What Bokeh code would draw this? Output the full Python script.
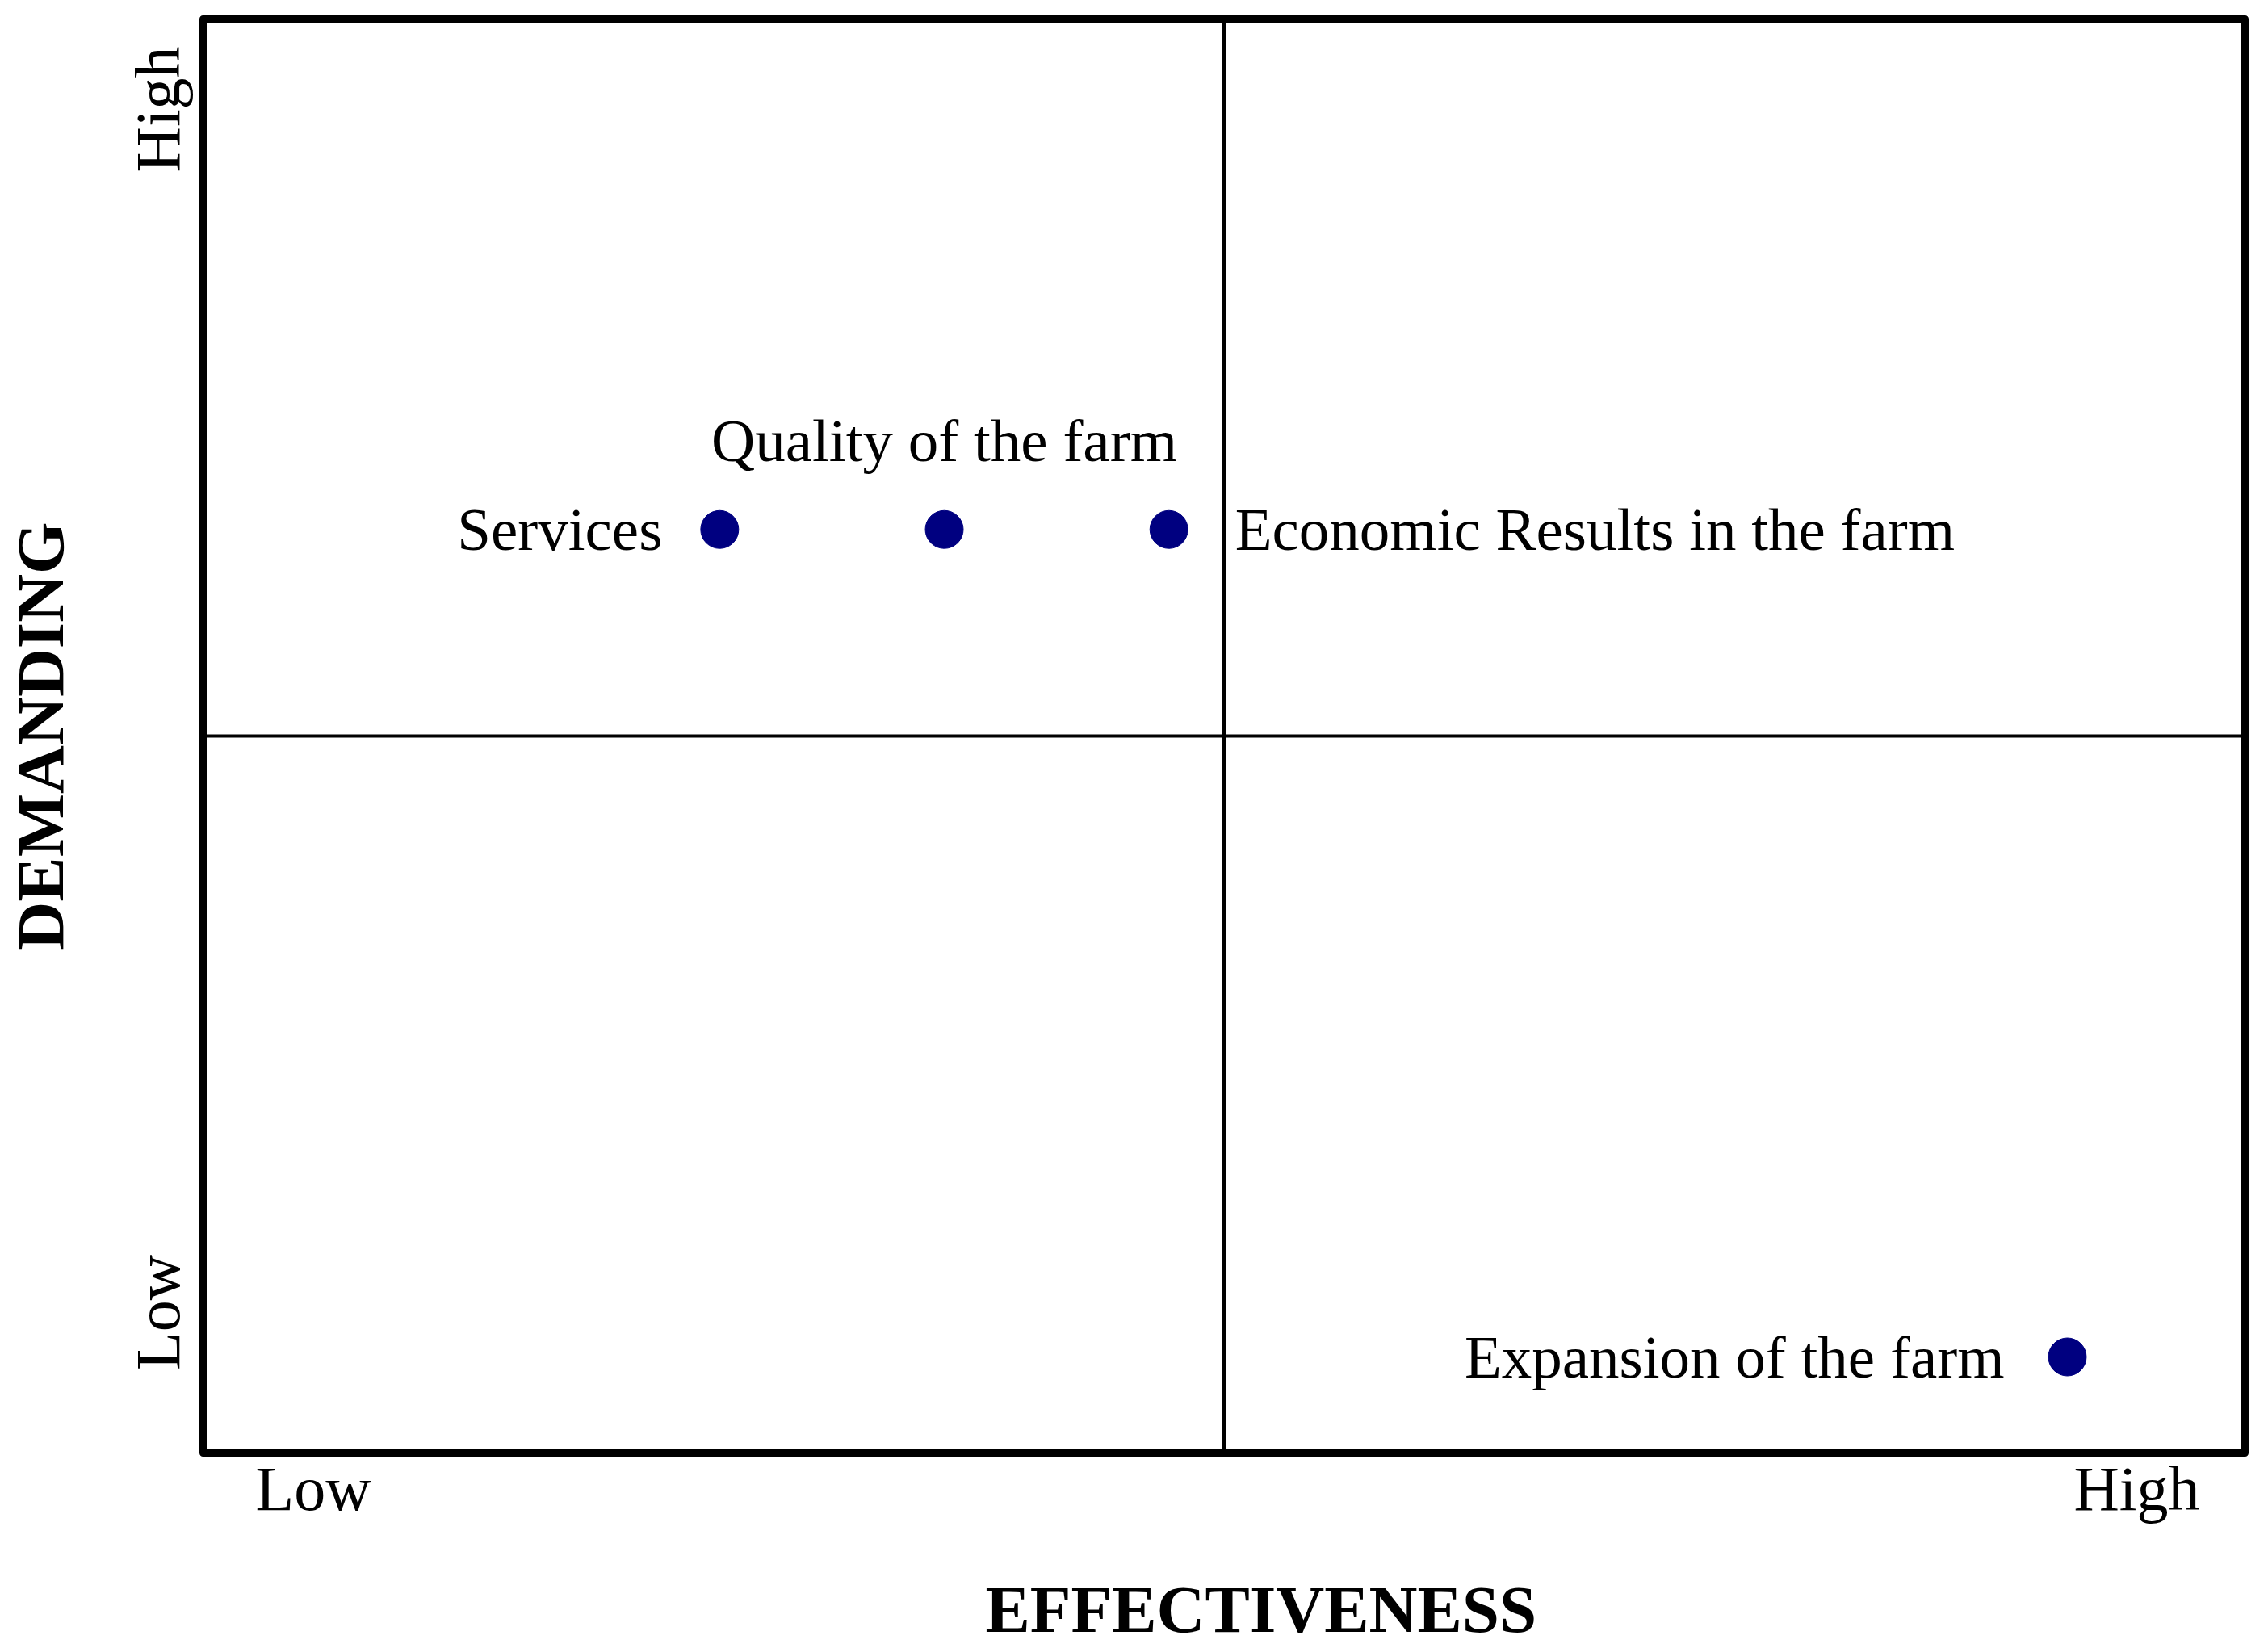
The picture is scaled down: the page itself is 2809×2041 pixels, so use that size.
from bokeh.plotting import figure
from bokeh.models import FixedTicker, Span, Range1d, Title, LinearAxis
from bokeh.core.properties import value
from bokeh.embed import file_html
from bokeh.resources import INLINE

# ---- data ----
factors = ["Services", "Quality of the farm", "Economic Results in the farm", "Expansion of the farm"]
effectiveness = [2.53, 3.63, 4.73, 9.13]
demanding = [6.44, 6.44, 6.44, 0.67]

x_ticks = [0.54, 9.47]
x_tick_labels = ["Low", "High"]
y_ticks = [0.98, 9.37]
y_tick_labels = ["Low", "High"]

x_title = "EFFECTIVENESS"
y_title = "DEMANDING"

x_min, x_max = 0, 10
y_min, y_max = 0, 10
x_mid = 5
y_mid = 5

FONT = "Liberation Serif"

p = figure(width=2802, height=2038,
           x_range=Range1d(x_min, x_max), y_range=Range1d(y_min, y_max),
           output_backend="svg", toolbar_location=None,
           min_border_left=249, min_border_right=22,
           min_border_top=23, min_border_bottom=239)

p.background_fill_color = "white"
p.border_fill_color = "white"
p.xgrid.visible = False
p.ygrid.visible = False
p.outline_line_color = "black"
p.outline_line_width = 9
p.outline_line_join = "round"

# quadrant lines
p.add_layout(Span(location=x_mid, dimension="height", line_color="black", line_width=4))
p.add_layout(Span(location=y_mid, dimension="width", line_color="black", line_width=4))

# axes
for ax, ticks, labels in ((p.xaxis[0], x_ticks, x_tick_labels), (p.yaxis[0], y_ticks, y_tick_labels)):
    ax.ticker = FixedTicker(ticks=ticks)
    ax.major_label_overrides = {t: l for t, l in zip(ticks, labels)}
    ax.major_tick_line_color = None
    ax.minor_tick_line_color = None
    ax.axis_line_color = None
    ax.major_tick_out = 0
    ax.major_tick_in = 0
    ax.major_label_text_font = FONT
    ax.major_label_text_font_size = "78px"
    ax.major_label_text_color = "black"
    ax.axis_label_text_font = FONT
    ax.axis_label_text_font_style = "bold"
    ax.axis_label_text_font_size = "83px"
    ax.axis_label_text_color = "black"

p.xaxis.major_label_standoff = 0
p.yaxis.axis_label = y_title
p.yaxis.major_label_orientation = "vertical"
p.yaxis.major_label_standoff = 12
p.yaxis.axis_label_standoff = 54

# blank spacer between the tick labels and the x title (one white tick, no label)
spacer = LinearAxis(ticker=FixedTicker(ticks=[x_mid]), major_tick_out=55, major_tick_in=0,
                    major_label_overrides={x_mid: ""}, major_label_text_font_size="1px",
                    major_label_text_color=None, major_label_standoff=0,
                    axis_line_color=None, major_tick_line_color="white",
                    minor_tick_line_color=None)
p.add_layout(spacer, "below")

# x-axis title: slightly right of centre, as in the original
p.add_layout(Title(text=x_title, align="left", offset=969, standoff=0,
                   text_font=FONT, text_font_style="bold", text_font_size="83px",
                   text_color="black"), "below")

# points
p.scatter(x=effectiveness, y=demanding, size=47, marker="circle",
          fill_color="#000080", line_color="#000080")

# labels
label_style = [
    dict(text_align="right", text_baseline="middle", x_offset=-71, y_offset=0),
    dict(text_align="center", text_baseline="alphabetic", x_offset=0, y_offset=-110),
    dict(text_align="left", text_baseline="middle", x_offset=82, y_offset=0),
    dict(text_align="right", text_baseline="middle", x_offset=-78, y_offset=0),
]
for i, st in enumerate(label_style):
    p.text(x=[effectiveness[i]], y=[demanding[i]], text=[factors[i]],
           text_font=value(FONT), text_font_size="75px", text_color="black", **st)

open("out.html", "w").write(file_html(p, INLINE))
